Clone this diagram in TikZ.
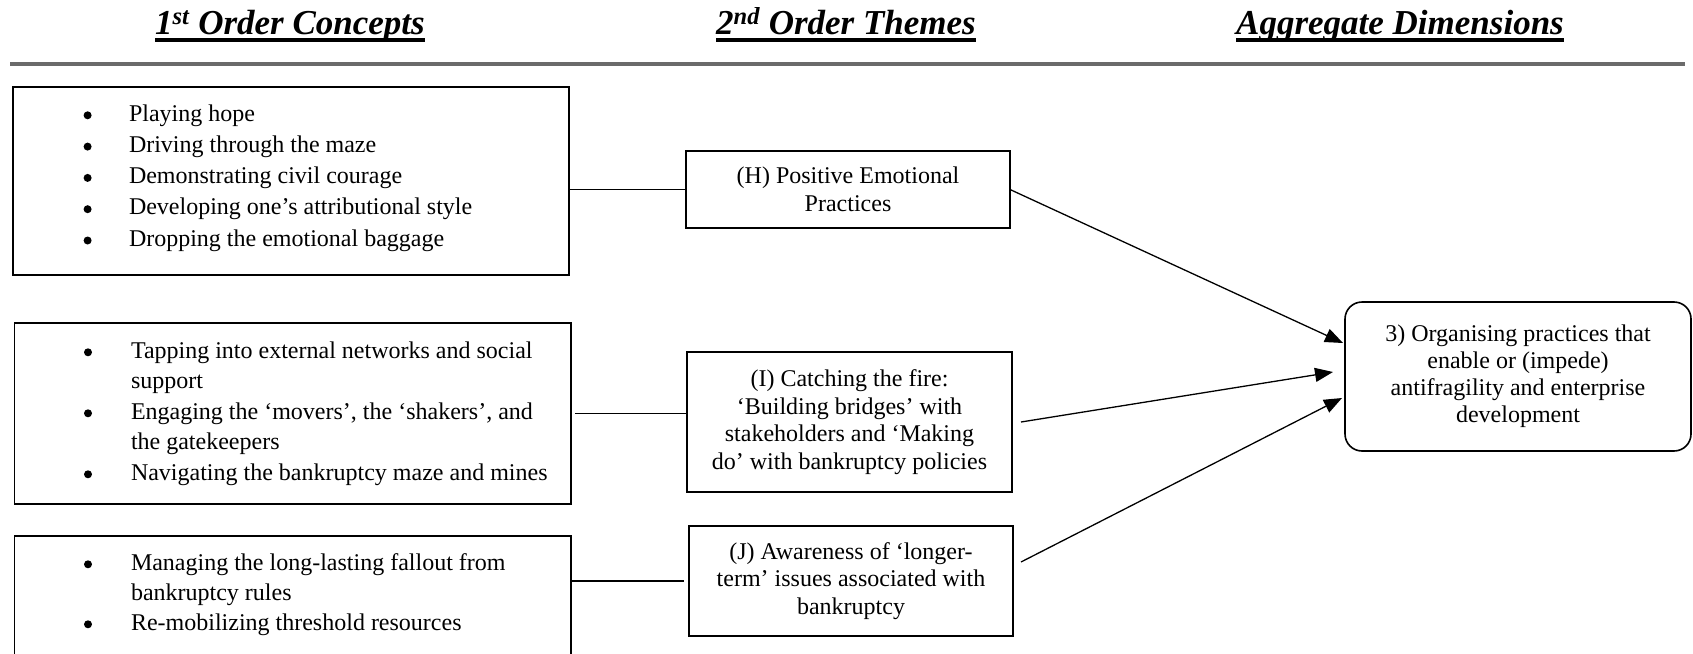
\documentclass[tikz,border=0pt]{standalone}
\usepackage{fontspec}
\setmainfont{Liberation Serif}
\usetikzlibrary{arrows.meta,calc}

\definecolor{rulegray}{HTML}{6B6B6B}

\begin{document}
\begin{tikzpicture}[x=1pt,y=-1pt,
  every node/.style={inner sep=0pt, outer sep=0pt},
  body/.style={font=\fontsize{24}{27.7}\selectfont},
  frame/.style={draw=black, line width=1.6pt, rectangle},
  theme/.style={frame, body, align=center},
  heading/.style={font=\fontsize{35}{40}\selectfont\bfseries\itshape, anchor=base},
  dot/.style={circle, fill=black, minimum size=8pt},
  uline/.style={line width=4pt},
  link/.style={line width=1.3pt},
  flow/.style={line width=1.3pt, -{Triangle[length=18pt,width=14pt]}},
]
\useasboundingbox (0,0) rectangle (1693,653);
\clip (0,0) rectangle (1693,653);

% column headings
\node[heading] (h1) at (290,34) {1\textsuperscript{st} Order Concepts};
\node[heading] (h2) at (846,34) {2\textsuperscript{nd} Order Themes};
\node[heading] (h3) at (1400,34) {Aggregate Dimensions};
\foreach \h in {h1,h2,h3}
  \draw[uline] ([yshift=-5.5pt]\h.base west) -- ([yshift=-5.5pt]\h.base east);

% rule under the headings
\coordinate (ruleL) at (10,64);
\coordinate (ruleR) at (1685,64);
\draw[line width=4pt, rulegray] (ruleL) -- (ruleR);

% first-order concept boxes
\node[frame, minimum width=556pt, minimum height=188pt, anchor=north west] (c1) at (13,87) {};
\node[frame, minimum width=556.5pt, minimum height=181pt, anchor=north west] (c2) at (14.5,323) {};
\node[frame, minimum width=556.5pt, minimum height=154pt, anchor=north west] (c3) at (14.5,536) {};

\node[body, anchor=base west] (t1) at (129,121) {\parbox[t]{430pt}{\baselineskip=31.3pt
  Playing hope\\
  Driving through the maze\\
  Demonstrating civil courage\\
  Developing one’s attributional style\\
  Dropping the emotional baggage}};
\node[body, anchor=base west] (t2) at (131,358) {\parbox[t]{430pt}{\baselineskip=30.5pt
  Tapping into external networks and social\\
  support\\
  Engaging the ‘movers’, the ‘shakers’, and\\
  the gatekeepers\\
  Navigating the bankruptcy maze and mines}};
\node[body, anchor=base west] (t3) at (131,570) {\parbox[t]{430pt}{\baselineskip=30pt
  Managing the long-lasting fallout from\\
  bankruptcy rules\\
  Re-mobilizing threshold resources}};

% list bullets, set 5.7pt above each item's first baseline
\foreach \k [count=\n] in {0,...,4}
  \node[dot] (b1\n) at (87.6,{121-5.7+31.3*\k}) {};
\foreach \yy [count=\n] in {358,419,480}
  \node[dot] (b2\n) at (88,\yy-5.7) {};
\foreach \yy [count=\n] in {570,630}
  \node[dot] (b3\n) at (88,\yy-5.7) {};

% second-order themes
\node[theme, minimum width=324pt, minimum height=77pt] (H) at (848,189.5)
  {(H) Positive Emotional\\Practices};
\node[theme, minimum width=325pt, minimum height=140pt] (I) at (849.5,422)
  {(I) Catching the fire:\\‘Building bridges’ with\\stakeholders and ‘Making\\do’ with bankruptcy policies};
\node[theme, minimum width=324pt, minimum height=110pt] (J) at (851,581)
  {(J) Awareness of ‘longer-\\term’ issues associated with\\bankruptcy};

% aggregate dimension
\node[theme, rounded corners=17pt, font=\fontsize{24}{27}\selectfont,
      minimum width=346pt, minimum height=149pt] (A) at (1518,376.5)
  {3) Organising practices that\\enable or (impede)\\antifragility and enterprise\\development};

% concept boxes to themes
\draw[link] (H.west -| c1.east) -- (H.west);
\draw[link] ([xshift=4pt]c2.east) -- (c2.east -| I.west);
\draw[link] (J.west -| c3.east) -- ([xshift=-5pt]J.west);

% themes to aggregate dimension
\coordinate (i0) at ($(I.east)+(9,0)$);
\coordinate (j0) at ($(J.east)+(8,-19)$);
\coordinate (a1) at ($(A.west)+(-2,-33.5)$);
\coordinate (a2) at ($(A.west)+(-12,-4.5)$);
\coordinate (a3) at ($(A.west)+(-3,21.5)$);
\draw[flow] (H.east) -- (a1);
\draw[flow] (i0) -- (a2);
\draw[flow] (j0) -- (a3);
\end{tikzpicture}
\end{document}
